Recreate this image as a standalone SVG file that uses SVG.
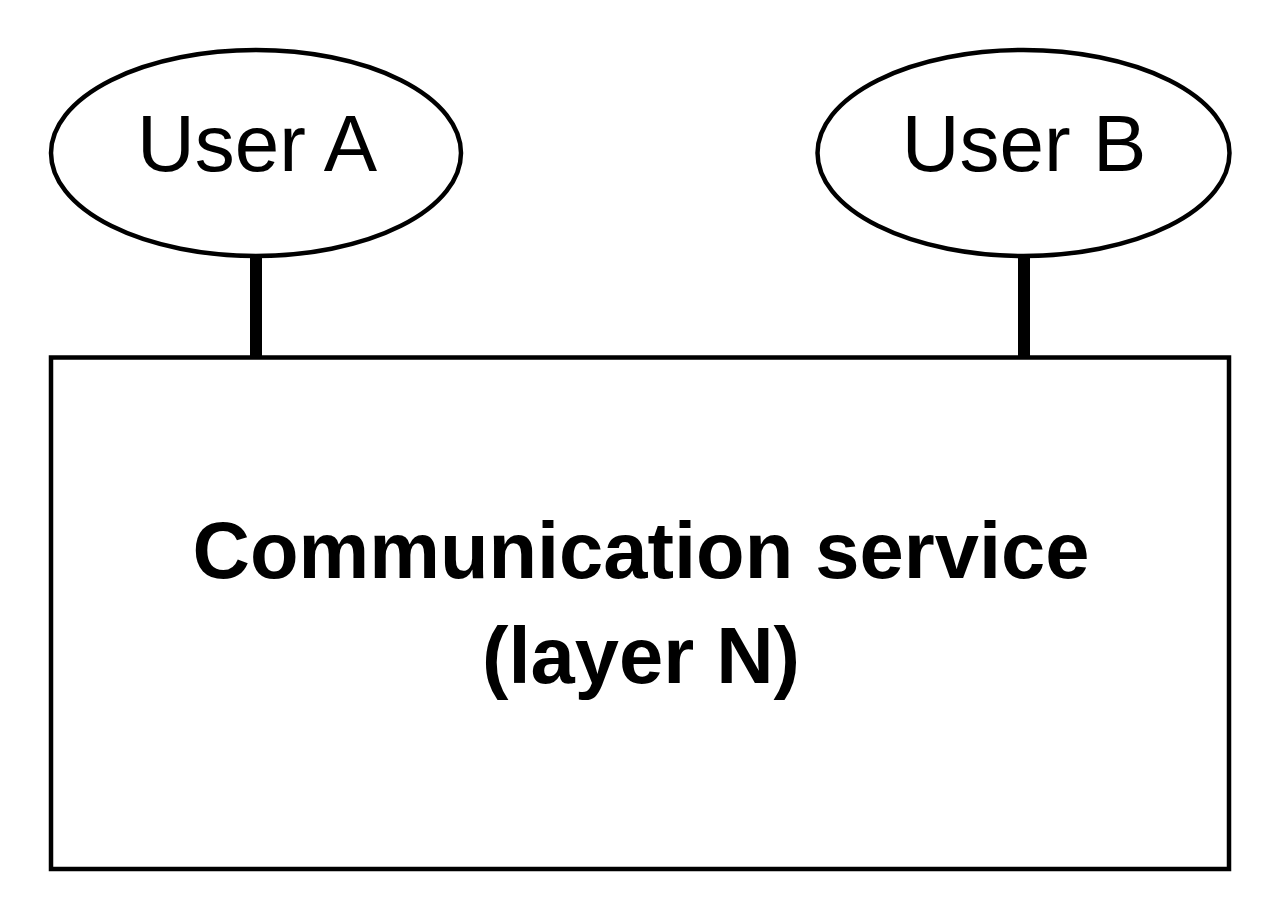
<svg xmlns="http://www.w3.org/2000/svg" width="1280" height="922" viewBox="0 0 1280 922">
<style>
.shape{fill:#fff;stroke:#000;stroke-width:4.5}
.link{stroke:#000;stroke-width:12;fill:none}
.lbl{font-family:"Liberation Sans",Arial,sans-serif;font-size:80px;fill:#000;text-anchor:middle}
.title{font-family:"Liberation Sans",Arial,sans-serif;font-size:79.5px;font-weight:bold;fill:#000;text-anchor:middle}
</style>
<rect width="1280" height="922" fill="#fff"/>
<g id="connectors">
<line class="link" x1="256" y1="255" x2="256" y2="357"/>
<line class="link" x1="1024" y1="255" x2="1024" y2="357"/>
</g>
<g id="userA">
<ellipse class="shape" cx="256" cy="153" rx="205" ry="103"/>
<text class="lbl" x="257" y="171">User A</text>
</g>
<g id="userB">
<ellipse class="shape" cx="1023.5" cy="153" rx="206" ry="103"/>
<text class="lbl" x="1024" y="171">User B</text>
</g>
<g id="service">
<rect class="shape" x="51" y="357.5" width="1178" height="511.5"/>
<text class="title" x="641" y="578">Communication service</text>
<text class="title" x="641" y="683">(layer N)</text>
</g>
</svg>
